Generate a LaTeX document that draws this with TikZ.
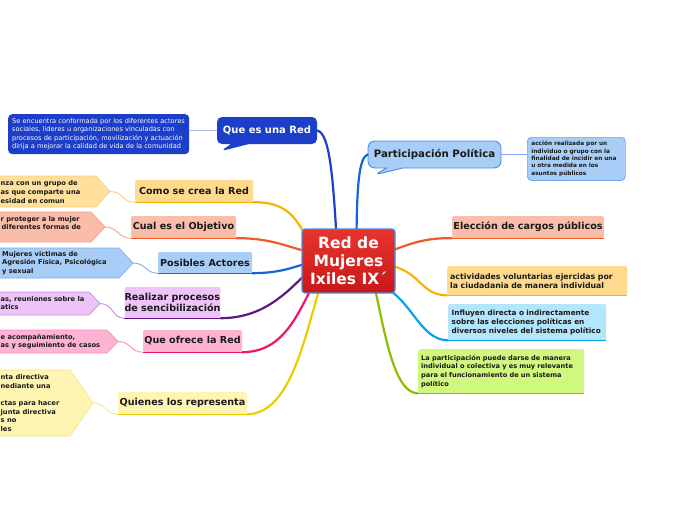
\documentclass[tikz,border=0pt]{standalone}
\usepackage{fontspec}
\setmainfont{DejaVu Sans}
\usetikzlibrary{shapes.callouts,calc}
\definecolor{qblue}{HTML}{1D3EC9}
\definecolor{lblue}{HTML}{A8CDF7}
\definecolor{bblue}{HTML}{4A8EE0}
\definecolor{cblue}{HTML}{1565D8}
\definecolor{corange}{HTML}{F7B500}
\definecolor{lorange}{HTML}{FFDA8C}
\definecolor{borange}{HTML}{FFCF6A}
\definecolor{cred}{HTML}{F15A24}
\definecolor{lsalmon}{HTML}{F9BDA9}
\definecolor{bsalmon}{HTML}{F5A488}
\definecolor{cpurple}{HTML}{5C1A80}
\definecolor{llav}{HTML}{EEC3FA}
\definecolor{blav}{HTML}{C68FDC}
\definecolor{cmag}{HTML}{F0146E}
\definecolor{lpink}{HTML}{FFB3D3}
\definecolor{bpink}{HTML}{FF8CBD}
\definecolor{cyel}{HTML}{E8D000}
\definecolor{lyel}{HTML}{FFF5B3}
\definecolor{byel}{HTML}{F8E58A}
\definecolor{ccyan}{HTML}{0EA0E8}
\definecolor{lcyan}{HTML}{B3E6FB}
\definecolor{cgreen}{HTML}{8CBF00}
\definecolor{lgreen}{HTML}{D0F77E}
\definecolor{redtop}{HTML}{E8342F}
\definecolor{redbot}{HTML}{C81818}
\definecolor{cborder}{HTML}{4A90E2}
\begin{document}
\begin{tikzpicture}[x=1pt,y=-1pt,
  branch/.style={rounded corners=2pt, inner sep=0pt, text=black!90,
    font=\bfseries\fontsize{9.6}{11.5}\selectfont},
  rbranch/.style={rounded corners=2pt, text=black!90, align=left, anchor=north west},
  leaftext/.style={inner sep=0pt, align=left, text=black!90, anchor=west,
    font=\bfseries\fontsize{6.7}{8.6}\selectfont},
  main/.style={line width=2.2pt, line cap=round},
  thin/.style={line width=0.9pt},
  uline/.style={line width=1.1pt}]
\useasboundingbox (0,0) rectangle (696,520);
\clip (0,0) rectangle (696,520);
\fill[white] (0,0) rectangle (696,520);

% ---------- branch nodes ----------
\node[branch, fill=lorange, minimum width=118pt, minimum height=22pt] (como) at (194,191) {Como se crea la Red};
\node[branch, fill=lsalmon, minimum width=105pt, minimum height=22pt] (obj) at (183.5,227) {Cual es el Objetivo};
\node[branch, fill=lblue, minimum width=94pt, minimum height=21pt] (act) at (205,262.5) {Posibles Actores};
\node[branch, fill=llav, minimum width=95pt, minimum height=31pt, align=left] (real) at (172.5,302.5) {Realizar procesos\\de sencibilización};
\node[branch, fill=lpink, minimum width=99pt, minimum height=22pt] (ofr) at (192.5,341) {Que ofrece la Red};
\node[branch, fill=lyel, minimum width=129pt, minimum height=22pt] (quien) at (182.5,403) {Quienes los representa};

\node[branch, fill=lsalmon, minimum width=152pt, minimum height=22pt] (elec) at (528,227) {Elección de cargos públicos};
\node[rbranch, fill=lorange, minimum height=29pt, inner sep=3pt, text width=174pt,
  font=\bfseries\fontsize{7.8}{9}\selectfont] (activ) at (447,266) {actividades voluntarias ejercidas por\\la ciudadania de manera individual};
\node[rbranch, fill=lcyan, minimum height=36pt, inner sep=3.5pt, text width=151pt,
  font=\bfseries\fontsize{7.3}{8.8}\selectfont] (influ) at (448,304) {Influyen directa o indirectamente\\sobre las elecciones políticas en\\diversos niveles del sistema político};
\node[rbranch, fill=lgreen, minimum height=44pt, inner sep=2pt, text width=162pt,
  font=\bfseries\fontsize{6.6}{8.7}\selectfont] (lapart) at (418,349) {\hspace*{1pt}La participación puede darse de manera\\\hspace*{1pt}individual o colectiva y es muy relevante\\\hspace*{1pt}para el funcionamiento de un sistema\\\hspace*{1pt}político};

% ---------- callouts and descriptions ----------
\node[rectangle callout, rounded corners=5pt, fill=qblue, text=white, inner sep=0pt,
  minimum width=100pt, minimum height=27pt, callout absolute pointer={(221,151)},
  callout pointer width=18pt, font=\bfseries\fontsize{10}{12}\selectfont] (que) at (267,130.5) {Que es una Red};
\node[rounded corners=4pt, fill=qblue, text=white, inner sep=4pt, align=left, anchor=north west,
  text width=173pt, minimum height=39pt, font=\fontsize{6.6}{8.5}\selectfont] (desc1) at (8,114)
  {Se encuentra conformada por los diferentes actores\\sociales, lideres u organizaciones vinculadas con\\procesos de participación, movilización y actuación\\dirija a mejorar la calidad de vida de la comunidad};
\node[rectangle callout, rounded corners=7pt, fill=lblue, draw=bblue, line width=0.9pt, inner sep=0pt,
  minimum width=133pt, minimum height=27pt, callout absolute pointer={(374,175)},
  callout pointer width=16pt, text=black!90, font=\bfseries\fontsize{10.2}{12}\selectfont] (part) at (434.5,154.5) {Participación Política};
\node[rounded corners=4pt, fill=lblue, draw=bblue!80, line width=0.7pt, inner sep=4pt, align=left, anchor=north west,
  text width=90pt, minimum height=42pt, text=black!90, font=\bfseries\fontsize{5.8}{7.3}\selectfont] (desc2) at (527,137)
  {acción realizada por un\\individuo o grupo con la\\finalidad de incidir en una\\u otra medida en los\\asuntos públicos};

\path (348.5,261) coordinate (cc);

% ---------- leaves ----------
\filldraw[fill=lorange!85!white, draw=borange, line width=0.7pt] (-5,176) -- (96,176) -- (110,191.5) -- (96,207) -- (-5,207) -- cycle;
\coordinate (l1) at (110,191.5);
\node[leaftext] (t1) at (0.5,192) {nza con un grupo de\\as que comparte una\\esidad en comun};

\filldraw[fill=lsalmon, draw=bsalmon, line width=0.7pt] (-5,212) -- (91,212) -- (105,227) -- (91,242) -- (-5,242) -- cycle;
\coordinate (l2) at (105,227);
\node[leaftext] (t2) at (0.5,223) {r proteger a la mujer\\\hspace*{1pt}diferentes formas de};

\filldraw[fill=lblue, draw=bblue!70, line width=0.7pt] (-5,248) -- (119,248) -- (133,263) -- (119,278) -- (-5,278) -- cycle;
\coordinate (l3) at (133,263);
\node[leaftext] (t3) at (2,263) {Mujeres victimas de\\Agresión Física, Psicológica\\y sexual};

\filldraw[fill=llav, draw=blav, line width=0.7pt] (-5,292) -- (89,292) -- (100,303.5) -- (89,315) -- (-5,315) -- cycle;
\coordinate (l4) at (100,303.5);
\node[leaftext] (t4) at (0.5,303) {as, reuniones sobre la\\atics};

\filldraw[fill=lpink, draw=bpink, line width=0.7pt] (-5,330) -- (107,330) -- (118,341.5) -- (107,353) -- (-5,353) -- cycle;
\coordinate (l5) at (118,341.5);
\node[leaftext] (t5) at (0.5,341.5) {e acompañamiento,\\as y seguimiento de casos};

\filldraw[fill=lyel, draw=byel, line width=0.7pt] (-5,370) -- (70,370) -- (93,403) -- (70,436) -- (-5,436) -- cycle;
\coordinate (l6) at (93,403);
\node[leaftext] (t6) at (0.5,403) {nta directiva\\nediante una\\\mbox{}\\ctas para hacer\\junta directiva\\s no\\les};

% ---------- thin connectors ----------
\draw[thin, draw=qblue!35] (desc1.east |- que.west) -- (que.west);
\draw[thin, draw=lblue!80!blue] (part.east) -- (desc2.west |- part.east);
\draw[thin, draw=borange] (l1) .. controls (123,191.5) and (122,202) .. (como.south west);
\draw[thin, draw=bsalmon] (l2) .. controls (118,227) and (118,238) .. (obj.south west);
\draw[thin, draw=bblue!70] (l3) .. controls (146,263) and (145,273) .. (act.south west);
\draw[thin, draw=blav] (l4) .. controls (113,303.5) and (112,318) .. (real.south west);
\draw[thin, draw=bpink] (l5) .. controls (131,341.5) and (130,352) .. (ofr.south west);
\draw[thin, draw=byel] (l6) .. controls (106,403) and (105,414) .. (quien.south west);

% ---------- underlines ----------
\draw[uline, corange] (como.south west) -- (como.south east);
\draw[uline, cred] (obj.south west) -- (obj.south east);
\draw[uline, cblue] (act.south west) -- (act.south east);
\draw[uline, cpurple] (real.south west) -- (real.south east);
\draw[uline, cmag] (ofr.south west) -- (ofr.south east);
\draw[uline, cyel] (quien.south west) -- (quien.south east);
\draw[uline, cred] (elec.south west) -- (elec.south east);
\draw[uline, corange] (activ.south west) -- (activ.south east);
\draw[uline, ccyan] (influ.south west) -- (influ.south east);
\draw[uline, cgreen] (lapart.south west) -- (lapart.south east);

% ---------- main connectors ----------
\draw[main, qblue] (que.east) .. controls (330,133) and (333,180) .. ($(cc)+(-12,-25)$);
\draw[main, cblue] ($(cc)+(8,-25)$) .. controls (357,185) and (359,158) .. (part.west);
\draw[main, corange] (como.south east) .. controls (285,202) and (295,215) .. ($(cc)+(-40,-20)$);
\draw[main, cred] (obj.south east) .. controls (270,238) and (285,246) .. ($(cc)+(-40,-9)$);
\draw[main, cblue] (act.south east) .. controls (280,273) and (290,268) .. ($(cc)+(-40,2)$);
\draw[main, cpurple] (real.south east) .. controls (262,318) and (285,295) .. ($(cc)+(-40,10)$);
\draw[main, cmag] (ofr.south east) .. controls (282,352) and (296,318) .. ($(cc)+(-36,25)$);
\draw[main, cyel] (quien.south east) .. controls (292,414) and (306,330) .. ($(cc)+(-28,25)$);
\draw[main, cred] ($(cc)+(40,-9)$) .. controls (418,240) and (432,238) .. (elec.south west);
\draw[main, corange] ($(cc)+(40,4)$) .. controls (422,272) and (420,295) .. (activ.south west);
\draw[main, ccyan] ($(cc)+(34,25)$) .. controls (412,300) and (420,340) .. (influ.south west);
\draw[main, cgreen] ($(cc)+(26,25)$) .. controls (386,340) and (395,393) .. (lapart.south west);

% ---------- central node ----------
\node[rounded corners=3pt, top color=redtop, bottom color=redbot, draw=cborder, line width=1.2pt,
  minimum width=93pt, minimum height=64pt, inner sep=0pt, align=center, text=white,
  font=\bfseries\fontsize{15.5}{18}\selectfont] (c) at (cc) {Red de\\Mujeres\\Ixiles IX´};
\end{tikzpicture}
\end{document}
